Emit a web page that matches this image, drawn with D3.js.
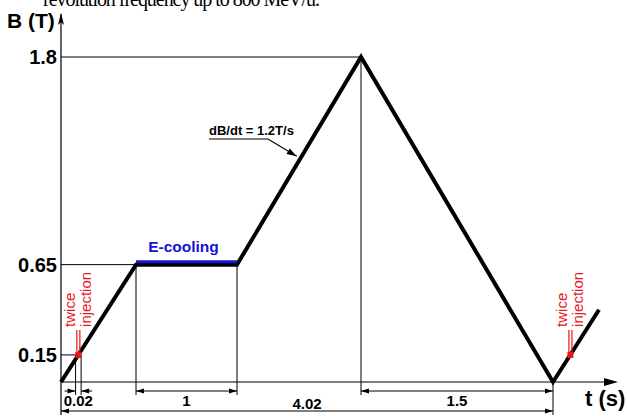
<!DOCTYPE html>
<html>
<head>
<meta charset="utf-8">
<script src="https://cdn.jsdelivr.net/npm/d3@7"></script>
<style>
  body { margin: 0; background: #fff; }
  svg { display: block; font-family: "Liberation Sans", Arial, sans-serif; }
</style>
</head>
<body>
<div id="chart"></div>
<script>
// cycle key points (schematic time axis)
const cycleT = [0, 0.54, 1.54, 2.52, 4.02, 4.35];
const cycleB = [0, 0.65, 0.65, 1.8, 0, 0.4];
const yTicks = [0.15, 0.65, 1.8];
const injectionT = [0.125, 4.145];
const injectionB = 0.15;
// dimensions under the axis
const dimLabels = ["0.02", "1", "4.02", "1.5"];
const dimStart = [0.105, 0.54, 0, 2.52];
const dimEnd = [0.145, 1.54, 4.02, 4.02];
const dimRow = [0, 0, 1, 0];

const width = 627, height = 416;
const sans = "'Liberation Sans', Arial, sans-serif";

const svg = d3.select("#chart").append("svg")
  .attr("width", width).attr("height", height);

// schematic piecewise time scale
const x = d3.scaleLinear()
  .domain(cycleT)
  .range([61, 136, 237, 361, 553, 599]);
const y = d3.scaleLinear().domain([0, 1.8]).range([382, 57]);

const rowY = [391, 411];

const defs = svg.append("defs");
defs.append("marker")
  .attr("id", "dim").attr("markerUnits", "userSpaceOnUse")
  .attr("viewBox", "-9 -3 10 6").attr("refX", 0).attr("refY", 0)
  .attr("markerWidth", 10).attr("markerHeight", 6).attr("orient", "auto-start-reverse")
  .append("path").attr("d", "M0,0L-8,-2.6L-8,2.6Z").attr("fill", "#000");
defs.append("marker")
  .attr("id", "lead").attr("markerUnits", "userSpaceOnUse")
  .attr("viewBox", "-11 -4 12 8").attr("refX", 0).attr("refY", 0)
  .attr("markerWidth", 12).attr("markerHeight", 8).attr("orient", "auto")
  .append("path").attr("d", "M0,0L-10,-3.2L-10,3.2Z").attr("fill", "#000");

// clipped line of text from the page above
svg.append("text")
  .attr("x", 43).attr("y", 6)
  .attr("font-family", "'Liberation Serif', 'DejaVu Serif', serif")
  .attr("font-size", 20)
  .attr("textLength", 277)
  .text("revolution frequency up to 800 MeV/u.");

// guide lines to the curve
const guide = svg.append("g").attr("stroke", "#000").attr("stroke-width", 1).attr("fill", "none");
guide.append("line").attr("x1", x(0)).attr("x2", x(dimEnd[0])).attr("y1", y(0.15)).attr("y2", y(0.15));
guide.append("line").attr("x1", x(0)).attr("x2", x(0.54)).attr("y1", y(0.65)).attr("y2", y(0.65));
guide.append("line").attr("x1", x(0)).attr("x2", x(2.52)).attr("y1", y(1.8)).attr("y2", y(1.8));
// extension lines
guide.append("line").attr("x1", x(dimStart[0])).attr("x2", x(dimStart[0])).attr("y1", y(0.15)).attr("y2", rowY[0] + 4);
guide.append("line").attr("x1", x(dimEnd[0])).attr("x2", x(dimEnd[0])).attr("y1", y(0.15)).attr("y2", rowY[0] + 4);
guide.append("line").attr("x1", x(0.54)).attr("x2", x(0.54)).attr("y1", y(0.65)).attr("y2", rowY[0] + 4);
guide.append("line").attr("x1", x(1.54)).attr("x2", x(1.54)).attr("y1", y(0.65)).attr("y2", rowY[0] + 4);
guide.append("line").attr("x1", x(2.52)).attr("x2", x(2.52)).attr("y1", y(1.8)).attr("y2", rowY[0] + 4);
guide.append("line").attr("x1", x(4.02)).attr("x2", x(4.02)).attr("y1", y(0)).attr("y2", rowY[1] + 4);

// dimension lines
dimLabels.forEach((lab, i) => {
  const ry = rowY[dimRow[i]];
  const x1 = x(dimStart[i]), x2 = x(dimEnd[i]);
  if (x2 - x1 < 20) {
    // narrow: arrows from outside
    guide.append("line").attr("x1", x1 - 11).attr("x2", x1).attr("y1", ry).attr("y2", ry)
      .attr("marker-end", "url(#dim)");
    guide.append("line").attr("x1", x2 + 11).attr("x2", x2).attr("y1", ry).attr("y2", ry)
      .attr("marker-end", "url(#dim)");
  } else {
    guide.append("line").attr("x1", x1).attr("x2", x2).attr("y1", ry).attr("y2", ry)
      .attr("marker-start", "url(#dim)").attr("marker-end", "url(#dim)");
  }
  svg.append("text")
    .attr("x", (x1 + x2) / 2)
    .attr("y", dimRow[i] === 0 ? ry + 15 : ry - 2)
    .attr("text-anchor", "middle")
    .attr("font-family", sans)
    .attr("font-size", 15).attr("font-weight", "bold")
    .text(lab);
});

// axes
svg.append("line").attr("x1", x(0)).attr("x2", x(0)).attr("y1", 415).attr("y2", 14)
  .attr("stroke", "#000").attr("stroke-width", 1.2);
svg.append("path").attr("d", `M${x(0)},13L${x(0) - 3},25L${x(0)},22L${x(0) + 3},25Z`).attr("fill", "#000");
svg.append("line").attr("x1", x(0)).attr("x2", 610).attr("y1", y(0)).attr("y2", y(0))
  .attr("stroke", "#000").attr("stroke-width", 1.2);
svg.append("path").attr("d", `M618,${y(0)}L604,${y(0) - 4}L604,${y(0) + 4}Z`).attr("fill", "#000");

const yAxis = svg.append("g")
  .attr("transform", `translate(${x(0) - 3},0)`)
  .call(d3.axisLeft(y).tickValues(yTicks).tickSize(0).tickPadding(1)
    .tickFormat(d => d === 1.8 ? "1.8" : d3.format(".2f")(d)));
yAxis.select(".domain").remove();
yAxis.selectAll("text")
  .attr("font-size", 20).attr("font-weight", "bold")
  .attr("font-family", sans)
  .attr("fill", "#000");

svg.append("text").attr("x", 7).attr("y", 28).attr("font-family", sans)
  .attr("font-size", 21).attr("font-weight", "bold").text("B (T)");
svg.append("text").attr("x", 585).attr("y", 406).attr("font-family", sans)
  .attr("font-size", 22).attr("font-weight", "bold").text("t (s)");

// magnetic cycle
const pts = cycleT.map((t, i) => [x(t), y(cycleB[i])]);
svg.append("path")
  .attr("d", d3.line()(pts))
  .attr("fill", "none").attr("stroke", "#000")
  .attr("stroke-width", 4).attr("stroke-linejoin", "miter");

// e-cooling plateau
svg.append("line")
  .attr("x1", x(0.54)).attr("x2", x(1.54))
  .attr("y1", y(0.65) - 3).attr("y2", y(0.65) - 3)
  .attr("stroke", "#1414d2").attr("stroke-width", 3);
svg.append("text")
  .attr("x", (x(0.54) + x(1.54)) / 2 - 3).attr("y", 252)
  .attr("text-anchor", "middle").attr("font-family", sans)
  .attr("font-size", 15.5).attr("font-weight", "bold").attr("fill", "#1414d2")
  .text("E-cooling");

// ramp rate leader
const tipB = 1.25;
const tipT = 1.54 + (tipB - 0.65) / (1.8 - 0.65) * (2.52 - 1.54);
const tipX = x(tipT) - 5, tipY = y(tipB);
svg.append("text").attr("x", 209).attr("y", 135).attr("font-family", sans)
  .attr("font-size", 13).attr("font-weight", "bold").text("dB/dt = 1.2T/s");
svg.append("path")
  .attr("d", `M209,139L268,139L${tipX},${tipY}`)
  .attr("fill", "none").attr("stroke", "#000").attr("stroke-width", 1.2)
  .attr("marker-end", "url(#lead)");

// injections
const red = "#e8141e";
injectionT.forEach(t => {
  const px = x(t), py = y(injectionB);
  const g = svg.append("g");
  g.append("line").attr("x1", px - 1.5).attr("x2", px - 1.5).attr("y1", py - 25).attr("y2", py)
    .attr("stroke", red).attr("stroke-width", 1.2);
  g.append("line").attr("x1", px + 1.5).attr("x2", px + 1.5).attr("y1", py - 25).attr("y2", py)
    .attr("stroke", red).attr("stroke-width", 1.2);
  g.append("rect").attr("x", px - 3).attr("y", py - 3).attr("width", 6).attr("height", 6)
    .attr("fill", red);
  const tx = g.append("text")
    .attr("transform", `translate(${px - 3},${py - 28}) rotate(-90)`)
    .attr("font-family", sans)
    .attr("font-size", 15).attr("fill", red);
  tx.append("tspan").attr("x", 0).attr("y", 0).text("twice");
  tx.append("tspan").attr("x", 0).attr("y", 16).text("injection");
});
</script>
</body>
</html>
